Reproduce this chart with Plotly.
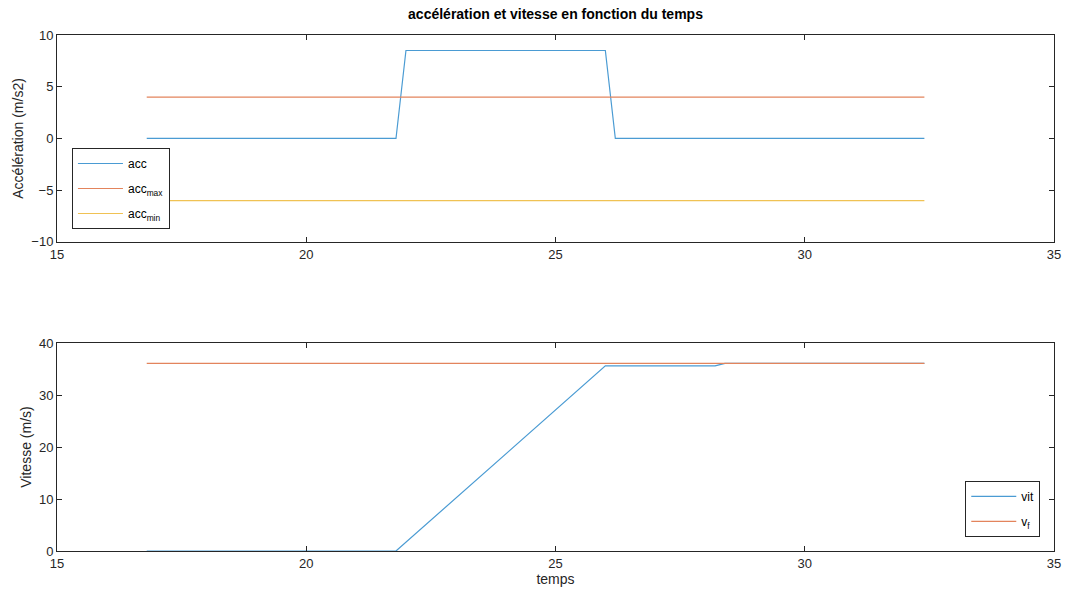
import plotly.graph_objects as go

# acceleration data
t_acc = [16.8, 21.8, 22.0, 26.0, 26.2, 32.4]
acc = [0, 0, 8.5, 8.5, 0, 0]
t_lim = [16.8, 32.4]
acc_max = [4, 4]
acc_min = [-6, -6]

# velocity data
t_vit = [16.8, 21.8, 26.0, 28.2, 28.4, 32.4]
vit = [0, 0, 35.6, 35.6, 36.1, 36.1]
v_f = [36.1, 36.1]

x_ticks = [15, 20, 25, 30, 35]
acc_ticks = [-10, -5, 0, 5, 10]
vit_ticks = [0, 10, 20, 30, 40]

BLUE = "#4A9BD3"
ORANGE = "#E3845C"
YELLOW = "#F0C254"
LW = 1.2

fig = go.Figure()
fig.add_trace(go.Scatter(x=t_acc, y=acc, mode="lines", name="acc", legendgroup="a",
                         line=dict(color=BLUE, width=LW), xaxis="x", yaxis="y", legend="legend"))
fig.add_trace(go.Scatter(x=t_lim, y=acc_max, mode="lines", name="acc<sub>max</sub>", legendgroup="b",
                         line=dict(color=ORANGE, width=LW), xaxis="x", yaxis="y", legend="legend"))
fig.add_trace(go.Scatter(x=t_lim, y=acc_min, mode="lines", name="acc<sub>min</sub>", legendgroup="c",
                         line=dict(color=YELLOW, width=LW), xaxis="x", yaxis="y", legend="legend"))
fig.add_trace(go.Scatter(x=t_vit, y=vit, mode="lines", name="vit", legendgroup="d",
                         line=dict(color=BLUE, width=LW), xaxis="x2", yaxis="y2", legend="legend2"))
fig.add_trace(go.Scatter(x=t_lim, y=v_f, mode="lines", name="v<sub>f</sub>", legendgroup="e",
                         line=dict(color=ORANGE, width=LW), xaxis="x2", yaxis="y2", legend="legend2"))

axis_common = dict(showgrid=False, zeroline=False, showline=True, linecolor="#262626",
                   linewidth=1, mirror="allticks", ticks="inside", ticklen=5, automargin=False,
                   tickcolor="#262626", tickfont=dict(size=13, color="#262626"))

fig.update_layout(
    width=1068, height=599,
    paper_bgcolor="white", plot_bgcolor="white",
    font=dict(family="Liberation Sans, Arial, sans-serif", color="#262626"),
    margin=dict(l=57, r=14, t=35, b=48, autoexpand=False),
    title=dict(text="<b>accélération et vitesse en fonction du temps</b>",
               x=(57 + 1054) / 2 / 1068, xanchor="center", y=1 - 14 / 599, yanchor="middle",
               font=dict(size=14, color="black"), automargin=False),
    xaxis=dict(range=[15, 35], tickvals=x_ticks, anchor="y", **axis_common),
    yaxis=dict(range=[-10, 10], tickvals=acc_ticks, domain=[0.599, 1], anchor="x",
               title=dict(text="Accélération (m/s2)", font=dict(size=14), standoff=4), **axis_common),
    xaxis2=dict(range=[15, 35], tickvals=x_ticks, anchor="y2",
                title=dict(text="temps", font=dict(size=14), standoff=2), **axis_common),
    yaxis2=dict(range=[0, 40], tickvals=vit_ticks, domain=[0, 0.403], anchor="x2",
                title=dict(text="Vitesse (m/s)", font=dict(size=14), standoff=4), **axis_common),
    legend=dict(x=0.015, y=0.781, xanchor="left", yanchor="top", bgcolor="white",
                bordercolor="#262626", borderwidth=1, font=dict(size=12, color="black"),
                tracegroupgap=6, itemwidth=45),
    legend2=dict(x=0.911, y=0.136, xanchor="left", yanchor="top", bgcolor="white",
                 bordercolor="#262626", borderwidth=1, font=dict(size=12, color="black"),
                 tracegroupgap=6, itemwidth=45),
)

fig.write_html("out.html", config={"displayModeBar": False},
               post_script="document.body.style.margin='0';document.body.style.overflow='hidden';")
